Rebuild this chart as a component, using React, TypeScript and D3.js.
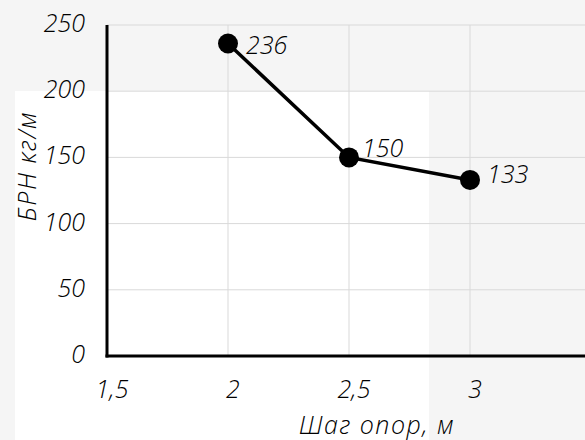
import React from "react";
import * as d3 from "d3";

const xValues = [2, 2.5, 3];
const yValues = [236, 150, 133];
const xTicks = [1.5, 2, 2.5, 3];
const yTicks = [0, 50, 100, 150, 200, 250];
const xTitle = "Шаг опор, м";
const yTitle = "БРН кг/м";
const labelOffsets = [
  [18, 0],
  [13, -10],
  [17, -7],
];

const W = 585;
const H = 440;
const FONT = "'Open Sans', sans-serif";

export default function App() {
  const x = d3.scaleLinear().domain([1.5, 3.5]).range([107, 591]);
  const y = d3.scaleLinear().domain([0, 250]).range([356, 25]);
  const pts = xValues.map((v, i) => [x(v), y(yValues[i])] as [number, number]);
  const line = d3.line()(pts) || "";
  const fmt = (v: number) => String(v).replace(".", ",");
  const textStyle: React.CSSProperties = {
    fontFamily: FONT,
    fontStyle: "italic",
    fontWeight: 300,
    fontSize: 25,
  };
  const titleStyle: React.CSSProperties = { ...textStyle, letterSpacing: 1.5 };
  return (
    <svg
      width={W}
      height={H}
      style={{ position: "fixed", left: 0, top: 0, display: "block" }}
    >
      <rect x={0} y={0} width={W} height={H} fill="#f5f5f5" />
      <rect x={15} y={91} width={414} height={H - 91} fill="#ffffff" />
      {yTicks.slice(1).map((t) => (
        <line
          key={"gy" + t}
          x1={x(1.5)}
          x2={W}
          y1={y(t)}
          y2={y(t)}
          stroke="#d9d9d9"
          strokeWidth={1}
        />
      ))}
      {xTicks.slice(1).map((t) => (
        <line
          key={"gx" + t}
          x1={x(t)}
          x2={x(t)}
          y1={y(250)}
          y2={y(0)}
          stroke="#d9d9d9"
          strokeWidth={1}
        />
      ))}
      <line x1={x(1.5)} x2={x(1.5)} y1={y(250)} y2={y(0) + 1.5} stroke="#000" strokeWidth={3} />
      <line x1={x(1.5) - 1.5} x2={W} y1={y(0)} y2={y(0)} stroke="#000" strokeWidth={3} />
      {yTicks.map((t) => (
        <text
          key={"ty" + t}
          x={85}
          y={y(t) - 3}
          textAnchor="end"
          dominantBaseline="central"
          style={textStyle}
        >
          {t}
        </text>
      ))}
      {xTicks.map((t) => (
        <text
          key={"tx" + t}
          x={x(t) + 5}
          y={398}
          textAnchor="middle"
          style={textStyle}
        >
          {fmt(t)}
        </text>
      ))}
      <text x={377} y={434} textAnchor="middle" style={titleStyle}>
        {xTitle}
      </text>
      <text
        transform={`translate(36,166) rotate(-90)`}
        textAnchor="middle"
        style={titleStyle}
      >
        {yTitle}
      </text>
      <path d={line} fill="none" stroke="#000" strokeWidth={3.5} />
      {pts.map((p, i) => (
        <circle key={"c" + i} cx={p[0]} cy={p[1]} r={10} fill="#000" />
      ))}
      {pts.map((p, i) => (
        <text
          key={"l" + i}
          x={p[0] + labelOffsets[i][0]}
          y={p[1] + labelOffsets[i][1]}
          dominantBaseline="central"
          style={textStyle}
        >
          {yValues[i]}
        </text>
      ))}
    </svg>
  );
}
